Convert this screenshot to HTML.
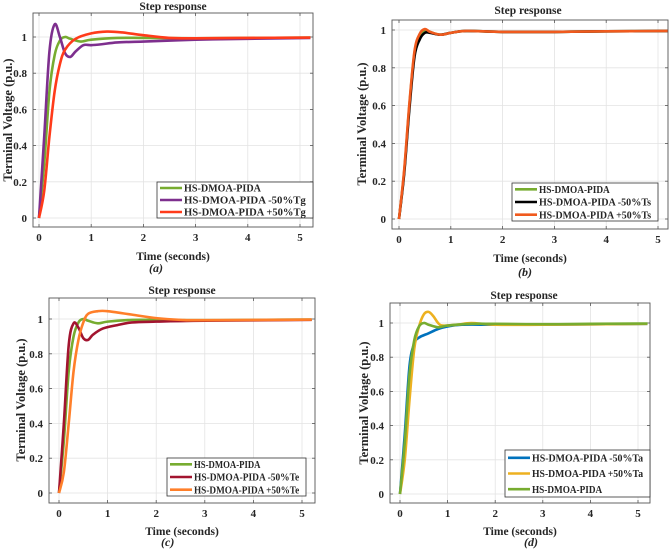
<!DOCTYPE html>
<html><head><meta charset="utf-8"><style>
html,body{margin:0;padding:0;background:#fff}
svg{display:block}
text{font-family:"Liberation Serif",serif;font-weight:bold;fill:#262626}
</style></head><body>
<svg id="fig" width="669" height="551" viewBox="0 0 669 551" xmlns="http://www.w3.org/2000/svg"></svg>
<script>
const xTicks=[0,1,2,3,4,5];
const yTicks=[0,0.2,0.4,0.6,0.8,1];
const yTickLabels=["0","0.2","0.4","0.6","0.8","1"];
// panel a
const aGreen=[[0,0],[0.1,0.3],[0.2,0.7],[0.3,0.9],[0.4,0.98],[0.5,1.0],[0.6,0.99],[0.8,0.975],[1.0,0.985],[1.5,0.995],[2,0.995],[3,0.993],[4,0.995],[5.2,0.997]];
const aPurple=[[0,0],[0.1,0.45],[0.2,0.92],[0.3,1.07],[0.4,1.0],[0.5,0.91],[0.6,0.89],[0.7,0.92],[0.85,0.955],[1.0,0.955],[1.2,0.96],[1.5,0.97],[2,0.975],[3,0.985],[4,0.99],[5.2,0.995]];
const aRed=[[0,0],[0.1,0.15],[0.2,0.45],[0.3,0.7],[0.4,0.85],[0.5,0.93],[0.7,0.99],[1.0,1.02],[1.3,1.03],[1.6,1.025],[2,1.01],[2.5,0.995],[3,0.993],[4,0.995],[5.2,0.997]];
// panel b
const bGreen=[[0,0],[0.1,0.25],[0.2,0.6],[0.3,0.88],[0.4,0.97],[0.5,1.0],[0.6,0.99],[0.8,0.975],[1.0,0.985],[1.3,0.995],[2,0.99],[3,0.99],[4,0.993],[5.2,0.995]];
const bBlack=[[0,0],[0.1,0.24],[0.2,0.58],[0.3,0.86],[0.4,0.95],[0.5,0.985],[0.6,0.985],[0.8,0.975],[1.0,0.985],[1.3,0.995],[2,0.99],[3,0.99],[4,0.993],[5.2,0.995]];
const bOrange=[[0,0],[0.1,0.26],[0.2,0.61],[0.3,0.89],[0.4,0.98],[0.5,1.005],[0.6,0.99],[0.8,0.975],[1.0,0.985],[1.3,0.995],[2,0.99],[3,0.99],[4,0.993],[5.2,0.995]];
// panel c
const cGreen=[[0,0],[0.1,0.3],[0.2,0.7],[0.3,0.9],[0.4,0.98],[0.5,1.0],[0.6,0.99],[0.8,0.975],[1.0,0.985],[1.5,0.995],[2,0.995],[3,0.993],[4,0.995],[5.2,0.997]];
const cDarkRed=[[0,0],[0.1,0.4],[0.2,0.85],[0.3,0.975],[0.4,0.95],[0.5,0.89],[0.6,0.88],[0.7,0.91],[0.9,0.945],[1.2,0.965],[1.5,0.98],[2,0.985],[3,0.99],[5.2,0.995]];
const cOrange=[[0,0],[0.1,0.12],[0.2,0.4],[0.3,0.7],[0.4,0.88],[0.5,0.98],[0.6,1.03],[0.8,1.045],[1.0,1.045],[1.5,1.025],[2,1.005],[2.5,0.995],[3,0.993],[5.2,0.997]];
// panel d
const dBlue=[[0,0],[0.1,0.35],[0.2,0.75],[0.3,0.88],[0.4,0.915],[0.6,0.94],[0.8,0.965],[1.0,0.98],[1.3,0.99],[2,0.99],[3,0.99],[5.2,0.995]];
const dYellow=[[0,0],[0.1,0.2],[0.2,0.55],[0.3,0.85],[0.4,0.98],[0.5,1.05],[0.6,1.065],[0.7,1.04],[0.8,1.0],[0.9,0.985],[1.2,0.99],[1.5,1.0],[2,0.99],[3,0.99],[5.2,0.995]];
const dGreen=[[0,0],[0.1,0.3],[0.2,0.7],[0.3,0.9],[0.4,0.98],[0.5,1.0],[0.6,0.99],[0.8,0.975],[1.0,0.985],[1.5,0.995],[2,0.995],[3,0.993],[4,0.995],[5.2,0.997]];

const NS="http://www.w3.org/2000/svg";
const svg=document.getElementById('fig');
function mk(tag,attrs,parent){const e=document.createElementNS(NS,tag);for(const k in attrs)e.setAttribute(k,attrs[k]);(parent||svg).appendChild(e);return e;}
function smooth(pts){let d="M"+pts[0][0]+","+pts[0][1];for(let i=0;i<pts.length-1;i++){const p0=pts[i-1]||pts[i],p1=pts[i],p2=pts[i+1],p3=pts[i+2]||p2;const c1x=p1[0]+(p2[0]-p0[0])/6,c1y=p1[1]+(p2[1]-p0[1])/6,c2x=p2[0]-(p3[0]-p1[0])/6,c2y=p2[1]-(p3[1]-p1[1])/6;d+=` C${c1x},${c1y} ${c2x},${c2y} ${p2[0]},${p2[1]}`;}return d;}

const panels=[
 {id:'a',box:[33,13,313,227],x0:39,x5:300,y0:218,y1:37,title:[173,10],xl:260,yl:[8,120],lab:[149,272],
  leg:[157,182,313,218],series:[[aGreen,'#77ac30','HS-DMOA-PIDA'],[aPurple,'#7e2f8e','HS-DMOA-PIDA -50%Tg'],[aRed,'#ff3b1a','HS-DMOA-PIDA +50%Tg']]},
 {id:'b',box:[392,20,668,229],x0:399,x5:658,y0:219,y1:30,title:[528,14],xl:262,yl:[362,124],lab:[518,276],
  leg:[512,183,658,221],series:[[bGreen,'#77ac30','HS-DMOA-PIDA'],[bBlack,'#000000','HS-DMOA-PIDA -50%Ts'],[bOrange,'#f05a1e','HS-DMOA-PIDA +50%Ts']]},
 {id:'c',box:[49,298,315,503],x0:59,x5:302,y0:493,y1:319,title:[182,294],xl:535,yl:[21,400],lab:[161,546],
  leg:[167,458,306,496],series:[[cGreen,'#77ac30','HS-DMOA-PIDA'],[cDarkRed,'#a2142f','HS-DMOA-PIDA -50%Te'],[cOrange,'#ff7f2a','HS-DMOA-PIDA +50%Te']]},
 {id:'d',box:[390,303,650,503],x0:400,x5:638,y0:494,y1:323,title:[524,299],xl:535,yl:[364,403],lab:[524,546],
  leg:[505,450,650,497],series:[[dBlue,'#0072bd','HS-DMOA-PIDA -50%Ta'],[dYellow,'#edb120','HS-DMOA-PIDA +50%Ta'],[dGreen,'#77ac30','HS-DMOA-PIDA']]}
];

panels.forEach(P=>{
 const g=mk('g',{});
 
 
 const [L,T,R,B]=P.box;
 const sx=v=>P.x0+(P.x5-P.x0)*v/5;
 const sy=v=>P.y0-(P.y0-P.y1)*v;
 const bg=mk('rect',{x:L,y:T,width:R-L,height:B-T,fill:'#fff'},g);
 
 
 xTicks.forEach(t=>{const X=sx(t);
  mk('line',{x1:X,y1:T,x2:X,y2:B,stroke:'#e3e3e3','stroke-width':0.8},g);
  mk('line',{x1:X,y1:B,x2:X,y2:B-3,stroke:'#555','stroke-width':0.8},g);
  mk('line',{x1:X,y1:T,x2:X,y2:T+3,stroke:'#555','stroke-width':0.8},g);
  const tx=mk('text',{x:X,y:B+14,'font-size':11,'text-anchor':'middle'},g);tx.textContent=t;
  
  
 });
 yTicks.forEach((t,i)=>{const Y=sy(t);
  mk('line',{x1:L,y1:Y,x2:R,y2:Y,stroke:'#e3e3e3','stroke-width':0.8},g);
  mk('line',{x1:L,y1:Y,x2:L+3,y2:Y,stroke:'#555','stroke-width':0.8},g);
  mk('line',{x1:R,y1:Y,x2:R-3,y2:Y,stroke:'#555','stroke-width':0.8},g);
  const tx=mk('text',{x:L-6,y:Y+4,'font-size':11,'text-anchor':'end'},g);tx.textContent=yTickLabels[i];
  
  
 });
 const cp=mk('clipPath',{id:'clip'+P.id},g);mk('rect',{x:L,y:T,width:R-L,height:B-T},cp);
 const sg=mk('g',{'clip-path':'url(#clip'+P.id+')'},g);
 P.series.forEach((s,i)=>{
  const pts=s[0].map(p=>[sx(p[0]),sy(p[1])]);
  const path=mk('path',{d:smooth(pts),fill:'none',stroke:s[1],'stroke-width':2.6,'stroke-linejoin':'round'},sg);
  
  
 });
 const box=mk('rect',{x:L,y:T,width:R-L,height:B-T,fill:'none',stroke:'#555','stroke-width':0.9},g);
 
 
 const [lx1,ly1,lx2,ly2]=P.leg;
 const lg=mk('g',{},g);
 
 
 mk('rect',{x:lx1,y:ly1,width:lx2-lx1,height:ly2-ly1,fill:'#fff',stroke:'#333','stroke-width':0.8},lg);
 const step=(ly2-ly1)/3;
 P.series.forEach((s,i)=>{
  const Y=ly1+step*(i+0.5);
  mk('line',{x1:lx1+3,y1:Y,x2:lx1+25,y2:Y,stroke:s[1],'stroke-width':2.6},lg);
  const tx=mk('text',{x:lx1+27,y:Y+3.6,'font-size':10,textLength:(lx2-lx1-31)*(s[2].length/19.5),lengthAdjust:'spacingAndGlyphs'},lg);tx.textContent=s[2];
  
  
 });
 const tt=mk('text',{x:P.title[0],y:P.title[1],'font-size':11.5,'text-anchor':'middle',fill:'#111'},g);tt.textContent='Step response';
 
 
 const xl=mk('text',{x:(L+R)/2,y:P.xl,'font-size':11.5,'text-anchor':'middle'},g);xl.textContent='Time (seconds)';
 
 
 const yl=mk('text',{x:0,y:0,'font-size':12.5,'text-anchor':'middle',transform:`translate(${P.yl[0]+4},${P.yl[1]}) rotate(-90)`},g);yl.textContent='Terminal Voltage (p.u.)';
 
 
 const lb=mk('text',{x:P.lab[0],y:P.lab[1],'font-size':12,'font-style':'italic',fill:'#1f3f66'},g);lb.textContent='('+P.id+')';
 
 
});
</script>
</body></html>
